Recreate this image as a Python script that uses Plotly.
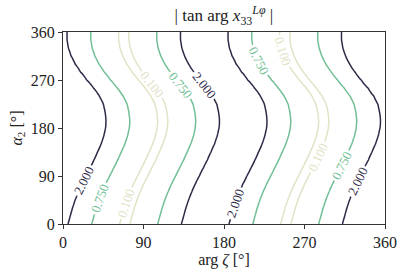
import numpy as np
import plotly.graph_objects as go

# alpha_2 rows (deg) and the arg-zeta position (deg) where |tan arg x| = 0
alpha2 = [0, 15, 30, 45, 60, 75, 90, 105, 120, 135, 150, 165, 180,
          195, 210, 225, 240, 255, 270, 285, 300, 315, 330, 345, 360]
centre = [69.0, 71.5, 74.0, 77.0, 80.5, 84.5, 89.0, 93.5, 98.0, 102.0, 106.0, 109.0, 111.0,
          111.5, 110.5, 108.5, 104.0, 97.5, 90.0, 83.0, 77.0, 72.5, 69.5, 68.0, 68.0]
arg_zeta = list(range(0, 361))

levels = [0.100, 0.750, 2.000]
colors = ["#e2e2c6", "#72bf95", "#2f2a48"]
ticks = [0, 90, 180, 270, 360]

FONT = "Liberation Serif, DejaVu Serif, serif"

x = np.array(arg_zeta, dtype=float)
z = []
for c in centre:
    z.append(np.clip(np.abs(np.tan(np.radians(x - c))), 0, 20))
z = np.array(z)

fig = go.Figure()
for lev, col in zip(levels, colors):
    fig.add_trace(go.Contour(
        x=arg_zeta, y=alpha2, z=z,
        contours=dict(start=lev, end=lev, size=1, coloring="lines",
                      showlabels=True, labelformat=".3f",
                      labelfont=dict(family=FONT, size=13, color=col)),
        colorscale=[[0, col], [1, col]],
        line=dict(width=1.5),
        showscale=False, hoverinfo="skip",
    ))

axis_common = dict(range=[0, 360], tickvals=ticks, ticktext=[str(t) for t in ticks],
                   showgrid=False, zeroline=False, showline=True, mirror=True,
                   linecolor="#333333", linewidth=1, ticks="outside", ticklen=4,
                   tickcolor="#333333", automargin=False,
                   tickfont=dict(family=FONT, size=16, color="#222222"))

fig.update_layout(
    width=407, height=280,
    margin=dict(l=63, r=22, t=32, b=56),
    paper_bgcolor="white", plot_bgcolor="white",
    showlegend=False,
    font=dict(family=FONT),
    title=dict(text="| tan arg <i>x</i><sub>33</sub><sup><i>Lφ</i></sup> |",
               x=0.55, xanchor="center", y=0.945, yanchor="middle",
               font=dict(family=FONT, size=17, color="#222222")),
    xaxis=dict(axis_common, title=dict(text="arg <i>ζ</i> [°]", standoff=2,
               font=dict(family=FONT, size=16, color="#222222"))),
    yaxis=dict(axis_common, title=dict(text="<i>α</i><sub>2</sub> [°]", standoff=4,
               font=dict(family=FONT, size=16, color="#222222"))),
)

fig.write_html("out.html", config={"displayModeBar": False},
               post_script="document.body.style.margin='0';document.body.style.overflow='hidden';")
